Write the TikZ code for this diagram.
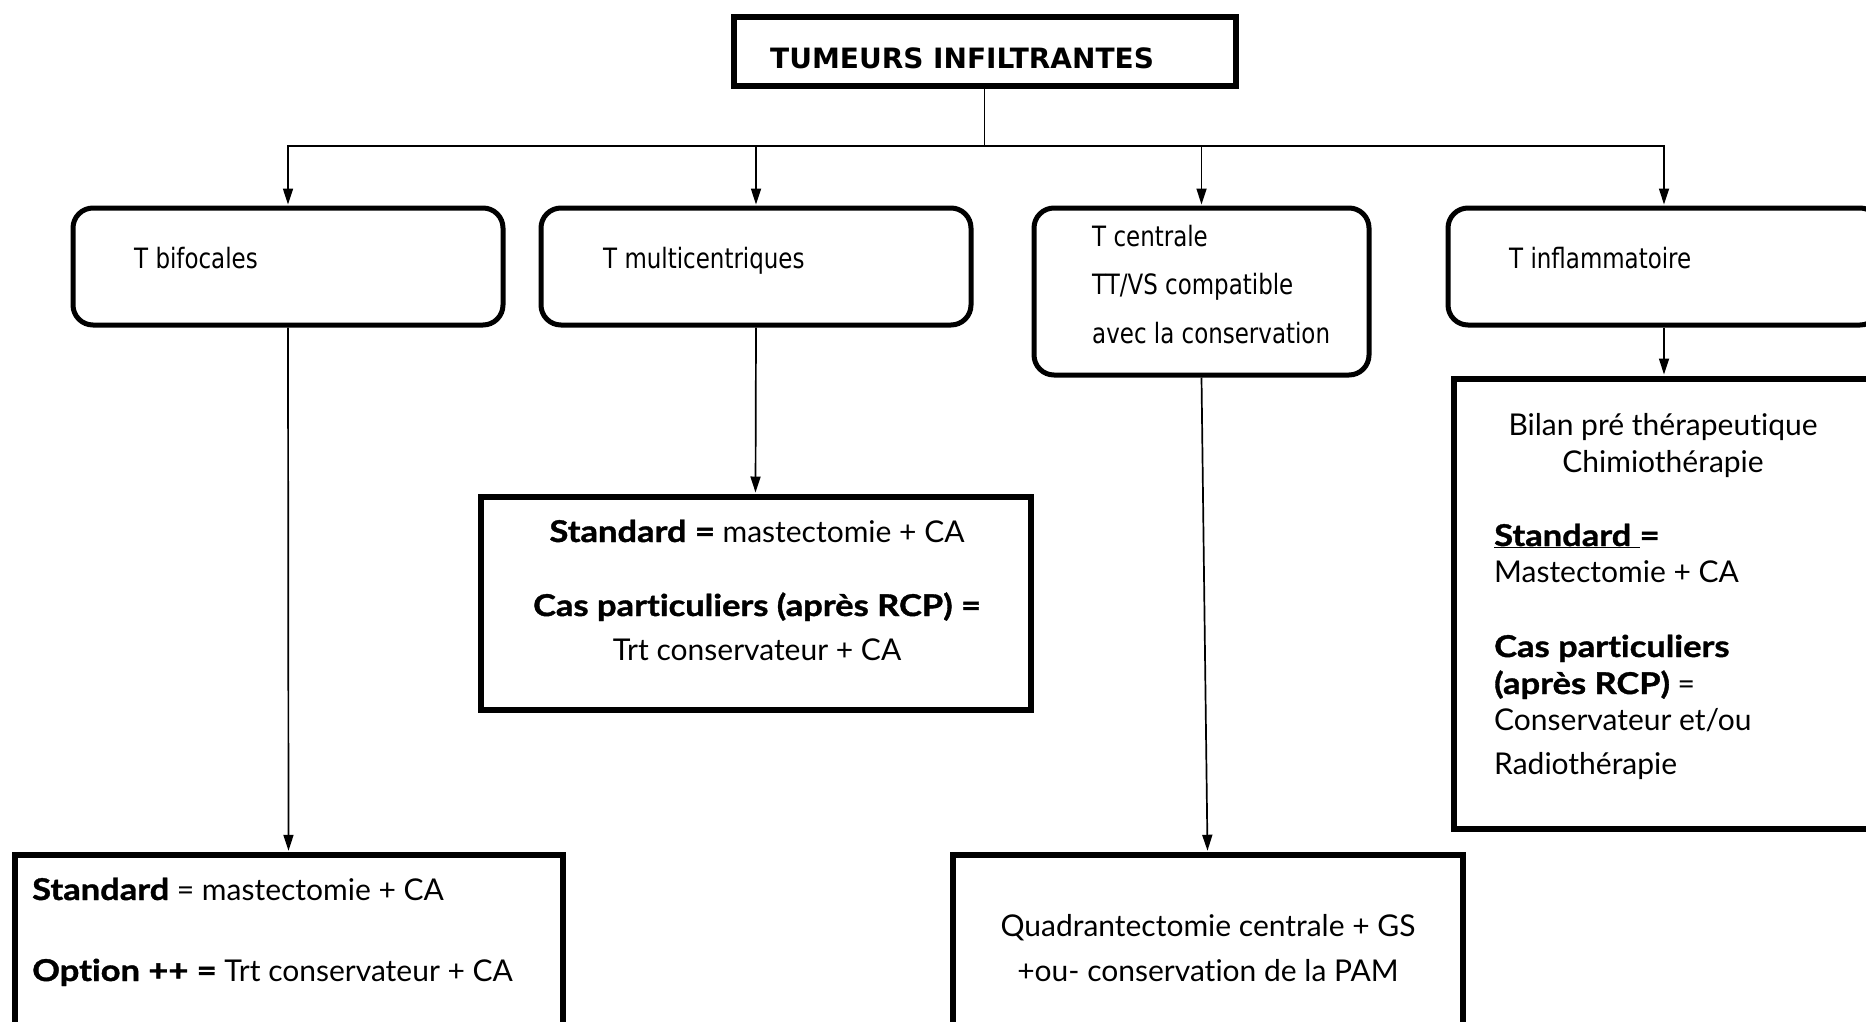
\documentclass[tikz,border=0pt]{standalone}
\usepackage{fontspec}
\setmainfont{Lato}[Ligatures=NoCommon,BoldFeatures={FakeStretch=1.15,FakeBold=1.2}]
\newfontfamily\tahoma[FakeStretch=0.82]{DejaVu Sans}
\newfontfamily\titlefont{DejaVu Sans}
\usetikzlibrary{arrows.meta}

\begin{document}
\begin{tikzpicture}[x=1pt,y=-1pt,
  arr/.style={line width=1.7pt,-{Triangle[length=16pt,width=10pt]},shorten >=1pt},
  link/.style={line width=1.7pt},
  roundbox/.style={draw,line width=5pt,rounded corners=20pt,inner sep=0pt},
  sqbox/.style={draw,line width=6pt,inner sep=0pt},
  lbl/.style={font=\tahoma\fontsize{28}{32}\selectfont,anchor=base west,inner sep=0pt},
  txtl/.style={font=\fontsize{30}{36}\selectfont,anchor=base west,inner sep=0pt},
  txtc/.style={font=\fontsize{30}{36}\selectfont,anchor=base,inner sep=0pt},
]
\useasboundingbox (0,0) rectangle (1866,1021);

% title box
\node[sqbox,minimum width=502pt,minimum height=69pt] (top) at (984.5,51) {};
\node[anchor=base west,inner sep=0pt,font=\titlefont\bfseries\fontsize{28}{32}\selectfont] (toptxt) at (770,68) {TUMEURS INFILTRANTES};

% first level: rounded boxes
\node[roundbox,minimum width=430pt,minimum height=117pt] (b1) at (288,266.5) {};
\node[roundbox,minimum width=430pt,minimum height=117pt] (b2) at (756,266.5) {};
\node[roundbox,minimum width=335pt,minimum height=167pt] (b3) at (1201.5,291.5) {};
\node[roundbox,minimum width=432pt,minimum height=117pt] (b4) at (1664,266.5) {};

\node[lbl] (b1t) at (134,268) {T bifocales};
\node[lbl] (b2t) at (603,268) {T multicentriques};
\node[lbl] (b3a) at (1092,246) {T centrale};
\node[lbl] (b3b) at (1092,294) {TT/VS compatible};
\node[lbl] (b3c) at (1092,343) {avec la conservation};
\node[lbl] (b4t) at (1509,268) {T inflammatoire};

% second level: square boxes
\node[sqbox,minimum width=548pt,minimum height=180pt] (r1) at (288.5,944.75) {};
\node[sqbox,minimum width=550pt,minimum height=213pt] (r2) at (755.5,603) {};
\node[sqbox,minimum width=510pt,minimum height=180pt] (r3) at (1207.5,944.75) {};
\node[sqbox,minimum width=421pt,minimum height=450pt] (r4) at (1664,603.5) {};

% texts of the second level
\node[txtl] (r1a) at (32,900) {\textbf{Standard} = mastectomie + CA};
\node[txtl] (r1b) at (32,981) {\textbf{Option ++ =} Trt conservateur + CA};

\node[txtc] (r2a) at (757,542) {\textbf{Standard =} mastectomie + CA};
\node[txtc] (r2b) at (757,616) {\textbf{Cas particuliers (après RCP) =}};
\node[txtc] (r2c) at (757,660) {Trt conservateur + CA};

\node[txtc] (r3a) at (1208,936) {Quadrantectomie centrale + GS};
\node[txtc] (r3b) at (1208,981) {+ou- conservation de la PAM};

\node[txtc] (r4a) at (1663,435) {Bilan pré thérapeutique};
\node[txtc] (r4b) at (1663,472) {Chimiothérapie};
\node[txtl] (r4c) at (1494,546) {\textbf{\underline{Standard\ }=}};
\node[txtl] (r4d) at (1494,582) {Mastectomie + CA};
\node[txtl] (r4e) at (1494,657) {\textbf{Cas particuliers}};
\node[txtl] (r4f) at (1494,694) {\textbf{(après RCP)} =};
\node[txtl] (r4g) at (1494,730) {Conservateur et/ou};
\node[txtl] (r4h) at (1494,774) {Radiothérapie};

% connectors
\coordinate (hub) at (984.5,146);
\draw[link] (top.south) -- (hub);
\draw[arr] (hub) -| (b1.north);
\draw[arr] (hub) -| (b2.north);
\draw[arr] (hub) -| (b3.north);
\draw[arr] (hub) -| (b4.north);

\draw[arr] (b1.south) -- (r1.north);
\draw[arr] (b2.south) -- (r2.north);
\draw[arr] (b3.south) -- (r3.north);
\draw[arr] (b4.south) -- (r4.north);
\end{tikzpicture}
\end{document}
